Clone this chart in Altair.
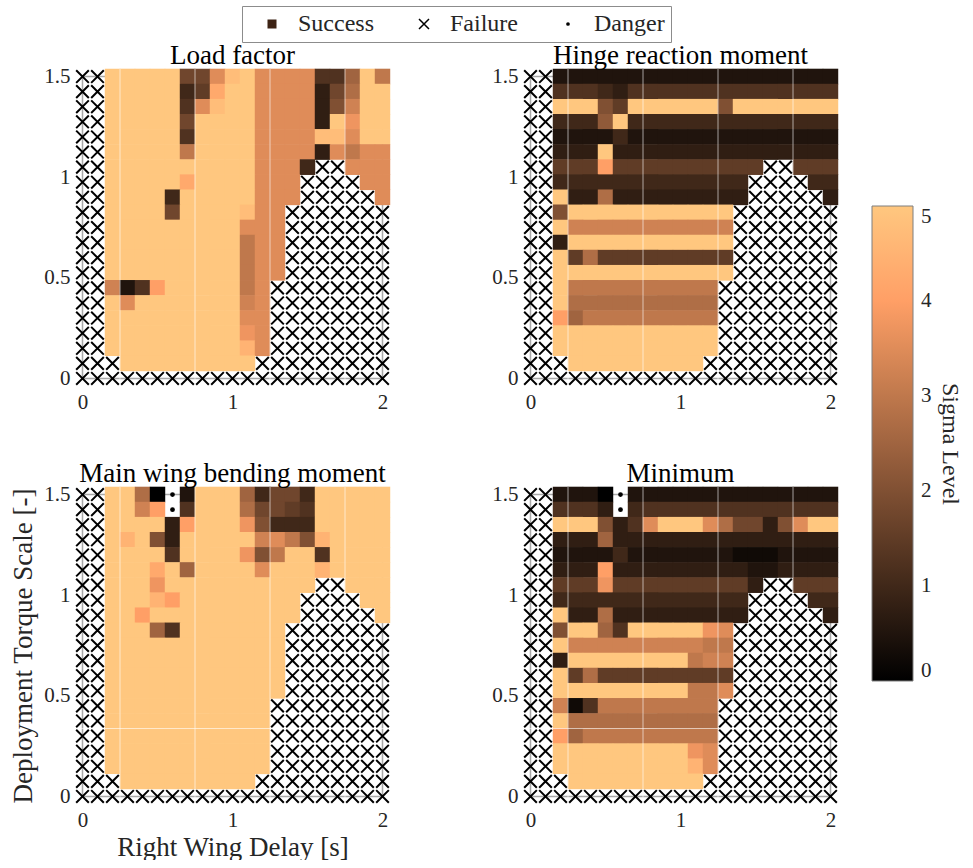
import altair as alt
import pandas as pd

FONT = "Liberation Serif"
TXT = "#262626"

# grid of simulations
X_DELAY = [0.0, 0.1, 0.2, 0.3, 0.4, 0.5, 0.6, 0.7, 0.8, 0.9, 1.0,
           1.1, 1.2, 1.3, 1.4, 1.5, 1.6, 1.7, 1.8, 1.9, 2.0]
Y_TORQUE = [0.0, 0.075, 0.15, 0.225, 0.3, 0.375, 0.45, 0.525, 0.6, 0.675, 0.75,
            0.825, 0.9, 0.975, 1.05, 1.125, 1.2, 1.275, 1.35, 1.425, 1.5]

# cell codes: x = failure, . = danger, otherwise sigma level = index in SIGMA_CODE * 0.25
SIGMA_CODE = "0123456789ABCDEFGHIJK"
SIGMA_STEP = 0.25

# rows listed from torque scale 1.5 (top) down to 0 (bottom)
LOAD_FACTOR = [
    "xxKKKKK77EJKEEEE55AKC",
    "xxKKKKK46HKKEEEE37BKK",
    "xxKKKKK5EJKKEEEE38DKK",
    "xxKKKKK7KKKKEEEE3KFKK",
    "xxKKKKK5KKKKEEEEJJEKK",
    "xxKKKKKCKKKKEEEE3ECEE",
    "xxKKKKKKKKKKEEE4xxEEE",
    "xxKKKKKHKKKKEEExxxxEE",
    "xxKKKK4KKKKKEEExxxxxE",
    "xxKKKK7KKKKJEExxxxxxx",
    "xxKKKKKKKKKEEExxxxxxx",
    "xxKKKKKKKKKCEExxxxxxx",
    "xxKKKKKKKKKCEExxxxxxx",
    "xxKKKKKKKKKCEExxxxxxx",
    "xxD25GKKKKKCExxxxxxxx",
    "xxKEKKKKKKKDExxxxxxxx",
    "xxKKKKKKKKKEExxxxxxxx",
    "xxKKKKKKKKKFExxxxxxxx",
    "xxKKKKKKKKKIExxxxxxxx",
    "xxxKKKKKKKKKxxxxxxxxx",
    "xxxxxxxxxxxxxxxxxxxxx",
]

HINGE_MOMENT = [
    "xx2222222222222222222",
    "xx5554355555555555555",
    "xxKKK86KKKKKK8KKKKKKK",
    "xx4449K44444444444444",
    "xx2222422222222222222",
    "xx333K333333333333333",
    "xx666G6666666666xx666",
    "xx4444444444444xxxx44",
    "xxK33B333333333xxxxx3",
    "xx8KKKKKKKKKKKxxxxxxx",
    "xxKDDDDDDDDDDDxxxxxxx",
    "xx3KKKKKKKKKKKxxxxxxx",
    "xxK6B666666666xxxxxxx",
    "xxKKKKKKKKKKKKxxxxxxx",
    "xxKCCCCCCCCCCxxxxxxxx",
    "xxKBBBBBBBBBBxxxxxxxx",
    "xxGACCCCCCCCCxxxxxxxx",
    "xxKKKKKKKKKKKxxxxxxxx",
    "xxKKKKKKKKKKKxxxxxxxx",
    "xxxKKKKKKKKKxxxxxxxxx",
    "xxxxxxxxxxxxxxxxxxxxx",
]

BENDING_MOMENT = [
    "xxKKB0.2KKKA4774KKKKK",
    "xxKKDG.5KKKB7765KKKKK",
    "xxKKKK3GKKKF8444KKKKK",
    "xxKIK83KKKKKDEC8IKKKK",
    "xxKKKK5KKKKF8CKK5KKKK",
    "xxKKKHKAKKKKEKKKIKKKK",
    "xxKKKFKKKKKKKKKKxxKKK",
    "xxKKKIGKKKKKKKKxxxxKK",
    "xxKKGKKKKKKKKKKxxxxxK",
    "xxKKKA5KKKKKKKxxxxxxx",
    "xxKKKKKKKKKKKKxxxxxxx",
    "xxKKKKKKKKKKKKxxxxxxx",
    "xxKKKKKKKKKKKKxxxxxxx",
    "xxKKKKKKKKKKKKxxxxxxx",
    "xxKKKKKKKKKKKxxxxxxxx",
    "xxKKKKKKKKKKKxxxxxxxx",
    "xxKKKKKKKKKKKxxxxxxxx",
    "xxKKKKKKKKKKKxxxxxxxx",
    "xxKKKKKKKKKKKxxxxxxxx",
    "xxxKKKKKKKKKxxxxxxxxx",
    "xxxxxxxxxxxxxxxxxxxxx",
]

MINIMUM = [
    "xx2220.22222222222222",
    "xx5553.45555555555555",
    "xxKKK835EKKKEB7738EKK",
    "xx333A333333333333333",
    "xx2222422222221112222",
    "xx333G333333333223333",
    "xx666F6666666663xx666",
    "xx4444444444444xxxx44",
    "xxK33B333333333xxxxx3",
    "xx8KKA5KKKKKFExxxxxxx",
    "xxKDDDDDDDDDCCxxxxxxx",
    "xx3KKKKKKKKCDDxxxxxxx",
    "xxK6B666666666xxxxxxx",
    "xxKKKKKKKKKCCExxxxxxx",
    "xxD15CCCCCCCCxxxxxxxx",
    "xxKBBBBBBBBBBxxxxxxxx",
    "xxGACCCCCCCCCxxxxxxxx",
    "xxKKKKKKKKKFExxxxxxxx",
    "xxKKKKKKKKKIExxxxxxxx",
    "xxxKKKKKKKKKxxxxxxxxx",
    "xxxxxxxxxxxxxxxxxxxxx",
]

PANEL_TITLES = ["Load factor", "Hinge reaction moment", "Main wing bending moment", "Minimum"]
STATUS = ["Success", "Failure", "Danger"]
X_TICKS = [0, 1, 2]
Y_TICKS = [0, 0.5, 1, 1.5]
SIGMA_TICKS = [0, 1, 2, 3, 4, 5]
AXIS_BOX = {"x0": 0, "x1": 2, "y0": 0, "y1": 1.5}
SEAM_X = [0.25, 0.75, 1.25, 1.75]
SEAM_Y = [0.3375]

# MATLAB "copper" colormap stops for sigma 0..5
COPPER = ["#000000", "#402819", "#805033", "#BF784C", "#FF9F66", "#FFC77F"]

SHAPES = ["M-0.75,-0.75L0.75,-0.75L0.75,0.75L-0.75,0.75Z",
          "M-1,-1L1,1M-1,1L1,-1",
          "M-0.22,0A0.22,0.22,0,1,0,0.22,0A0.22,0.22,0,1,0,-0.22,0Z"]
STROKES = ["#3d2314", "#000000", "#000000"]
FILLS = ["#3d2314", "transparent", "#000000"]

HX = 0.0515
HY = 0.0390

XS = alt.Scale(domain=[-0.05, 2.05], nice=False, zero=False)
YS = alt.Scale(domain=[-0.0375, 1.5375], nice=False, zero=False)


def cells(rows):
    recs = []
    n = len(rows)
    for r, row in enumerate(rows):
        yv = Y_TORQUE[n - 1 - r]
        for c, ch in enumerate(row):
            xv = X_DELAY[c]
            rec = {"x": xv, "y": yv, "xl": xv - HX, "xr": xv + HX,
                   "yl": yv - HY, "yh": yv + HY}
            if ch == "x":
                rec["status"] = "Failure"
            elif ch == ".":
                rec["status"] = "Danger"
            else:
                rec["status"] = "Success"
                rec["sigma"] = SIGMA_CODE.index(ch) * SIGMA_STEP
            recs.append(rec)
    return pd.DataFrame(recs)


COLOR_LEGEND = alt.Legend(
    title="Sigma Level", orient="none", legendX=797, legendY=137,
    direction="vertical", gradientLength=475, gradientThickness=41,
    gradientStrokeColor="#7f7f7f", gradientStrokeWidth=1,
    values=SIGMA_TICKS, format="d", labelFont=FONT, labelFontSize=21, labelColor=TXT,
    labelOffset=8, labelOverlap=False,
    titleOrient="right", titleFont=FONT, titleFontSize=24,
    titleFontWeight="normal", titleColor=TXT, titlePadding=6,
    titleAnchor="middle", padding=0)

STATUS_LEGEND = alt.Legend(
    title=None, orient="none", legendX=167, legendY=-63,
    direction="horizontal", columns=3, strokeColor="#8c8c8c", fillColor="white",
    padding=6, labelFont=FONT, labelFontSize=24, labelColor=TXT,
    symbolSize=100, symbolStrokeWidth=1.5, labelOffset=14,
    columnPadding=26, symbolOffset=12)


def panel(rows, title, x_title=None, y_title=None, h_seam=False):
    df = cells(rows)
    ok = df[df["status"] == "Success"]
    marks = df[df["status"] != "Success"]

    xaxis = alt.Axis(values=X_TICKS, format="~g", labelFont=FONT, labelFontSize=21,
                     labelColor=TXT, ticks=False, domain=False, grid=False,
                     labelPadding=5, labelFlush=False, title=x_title, titleFont=FONT,
                     titleFontSize=27, titleFontWeight="normal", titleColor=TXT,
                     titlePadding=4)
    yaxis = alt.Axis(values=Y_TICKS, format="~g", labelFont=FONT, labelFontSize=21,
                     labelColor=TXT, ticks=False, domain=False, grid=False,
                     labelPadding=5, labelFlush=False, title=y_title, titleFont=FONT,
                     titleFontSize=27, titleFontWeight="normal", titleColor=TXT,
                     titlePadding=6)

    box = alt.Chart(pd.DataFrame([AXIS_BOX])).mark_rect(
        fill="transparent", stroke="#a8a8a8", strokeWidth=1.5
    ).encode(
        x=alt.X("x0:Q", scale=XS, axis=xaxis), x2="x1:Q",
        y=alt.Y("y0:Q", scale=YS, axis=yaxis), y2="y1:Q")

    heat = alt.Chart(ok).mark_rect().encode(
        x=alt.X("xl:Q", scale=XS, axis=xaxis), x2="xr:Q",
        y=alt.Y("yl:Q", scale=YS, axis=yaxis), y2="yh:Q",
        color=alt.Color("sigma:Q", scale=alt.Scale(domain=SIGMA_TICKS, range=COPPER,
                                                   interpolate="rgb"),
                        legend=COLOR_LEGEND))

    vseam = alt.Chart(pd.DataFrame({"sx": SEAM_X})).mark_rule(
        color="white", strokeWidth=1, opacity=0.6
    ).encode(x=alt.X("sx:Q", scale=XS, axis=xaxis))

    layers = [box, heat, vseam]
    if h_seam:
        hseam = alt.Chart(pd.DataFrame({"sy": SEAM_Y})).mark_rule(
            color="white", strokeWidth=1, opacity=0.6
        ).encode(y=alt.Y("sy:Q", scale=YS, axis=yaxis))
        layers.append(hseam)

    pts = alt.Chart(marks).mark_point(size=160, strokeWidth=2, opacity=1).encode(
        x=alt.X("x:Q", scale=XS, axis=xaxis),
        y=alt.Y("y:Q", scale=YS, axis=yaxis),
        shape=alt.Shape("status:N", scale=alt.Scale(domain=STATUS, range=SHAPES),
                        legend=STATUS_LEGEND),
        stroke=alt.Stroke("status:N", scale=alt.Scale(domain=STATUS, range=STROKES),
                          legend=STATUS_LEGEND),
        fill=alt.Fill("status:N", scale=alt.Scale(domain=STATUS, range=FILLS),
                      legend=STATUS_LEGEND))
    layers.append(pts)

    return alt.layer(*layers).properties(
        width=315, height=317,
        title=alt.TitleParams(title, font=FONT, fontSize=27, fontWeight="normal",
                              color="#000000", offset=-4))


tl = panel(LOAD_FACTOR, PANEL_TITLES[0])
tr = panel(HINGE_MOMENT, PANEL_TITLES[1])
bl = panel(BENDING_MOMENT, PANEL_TITLES[2], x_title="Right Wing Delay [s]",
           y_title="Deployment Torque Scale [-]", h_seam=True)
br = panel(MINIMUM, PANEL_TITLES[3], h_seam=True)

chart = alt.concat(
    tl, tr, bl, br, columns=2, spacing={"row": 101, "column": 133}, bounds="flush"
).properties(
    padding={"left": 9, "top": 5, "right": 4, "bottom": 0},
    background="white",
).configure(font=FONT).configure_view(strokeWidth=0)

chart.save("out.html", embed_options={"renderer": "svg", "actions": False})
